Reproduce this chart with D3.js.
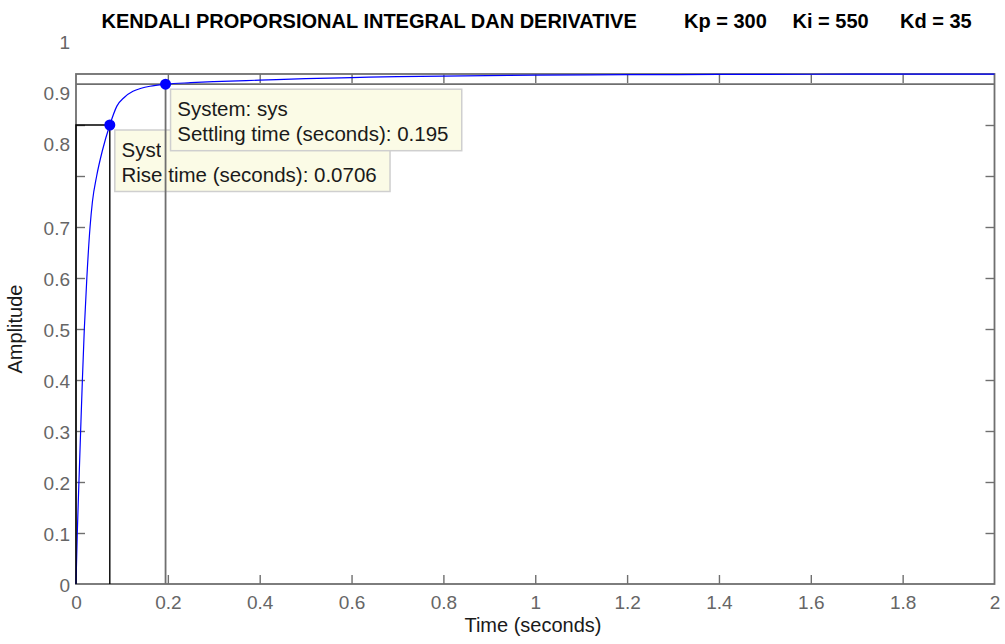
<!DOCTYPE html>
<html>
<head>
<meta charset="utf-8">
<script src="https://cdn.jsdelivr.net/npm/d3@7"></script>
<style>
  html, body { margin: 0; padding: 0; background: #fff; }
  svg { display: block; font-family: "Liberation Sans", Arial, sans-serif; }
</style>
</head>
<body>
<svg id="chart" width="1005" height="644"></svg>
<script>
// ---------- data ----------
const titleMain = "KENDALI PROPORSIONAL INTEGRAL DAN DERIVATIVE";
const titleGains = ["Kp = 300", "Ki = 550", "Kd = 35"];
const xLabel = "Time (seconds)";
const yLabel = "Amplitude";

const timeS = [0, 0.0028, 0.0064, 0.0101, 0.0139, 0.0181, 0.0236, 0.0306, 0.0358, 0.045,
  0.0575, 0.0736, 0.089, 0.105, 0.124, 0.142, 0.161, 0.195, 0.25, 0.3, 0.4, 0.5, 0.6,
  0.7, 0.8, 1.0, 1.2, 1.4, 1.6, 1.8, 2.0];
const amplitude = [0, 0.1, 0.2, 0.3, 0.4, 0.5, 0.6, 0.7, 0.75, 0.8,
  0.85, 0.9, 0.937, 0.954, 0.966, 0.972, 0.976, 0.98, 0.983, 0.985, 0.988, 0.991, 0.993,
  0.995, 0.996, 0.9976, 0.9986, 0.9992, 0.9995, 0.9997, 0.9998];

const xTicks = [0, 0.2, 0.4, 0.6, 0.8, 1, 1.2, 1.4, 1.6, 1.8, 2];
const yTicks = [0, 0.1, 0.2, 0.3, 0.4, 0.5, 0.6, 0.7, 0.8, 0.9, 1];

const riseTimeLabel = 0.0706, riseMarkT = 0.0736, riseMarkY = 0.9;
const settleTimeLabel = 0.195, settleMarkY = 0.98;
const sysName = "sys";

// ---------- layout ----------
const svg = d3.select("#chart");
const L = 76, R = 994.5, T = 74, B = 584;
const x = d3.scaleLinear().domain([0, 2]).range([L, R]);
const y = d3.scaleLinear().domain([0, 1]).range([B, T]);
const axisGray = "#6f6f6f";
const labelGray = "#666666";

// title
svg.append("text").attr("x", 101.5).attr("y", 28).attr("font-size", 20)
  .attr("font-weight", "bold").attr("fill", "#000").text(titleMain);
const gainX = [684, 792.5, 900];
titleGains.forEach((g, i) => {
  svg.append("text").attr("x", gainX[i]).attr("y", 28).attr("font-size", 20)
    .attr("font-weight", "bold").attr("fill", "#000").text(g);
});

// axes box
svg.append("rect").attr("x", L).attr("y", T).attr("width", R - L).attr("height", B - T)
  .attr("fill", "#fff").attr("stroke", axisGray).attr("stroke-width", 1.8);

function styleAxis(g) {
  g.select(".domain").remove();
  g.selectAll(".tick line").attr("stroke", axisGray).attr("stroke-width", 1.4);
  g.selectAll(".tick text").attr("fill", labelGray).attr("font-size", 19)
    .attr("font-family", "Liberation Sans, Arial, sans-serif");
}
const fmt = d => String(+d.toFixed(1));

const gx = svg.append("g").attr("transform", `translate(0,${B})`)
  .call(d3.axisBottom(x).tickValues(xTicks).tickSize(-9).tickPadding(11.5).tickFormat(fmt));
styleAxis(gx);
gx.selectAll(".tick line").filter(d => d === 0 || d === 2).remove();

const gxTop = svg.append("g").attr("transform", `translate(0,${T})`)
  .call(d3.axisTop(x).tickValues(xTicks.filter(d => d > 0 && d < 2)).tickSize(-9).tickFormat(""));
styleAxis(gxTop);

const gy = svg.append("g").attr("transform", `translate(${L},0)`)
  .call(d3.axisLeft(y).tickValues(yTicks).tickSize(-9).tickPadding(6).tickFormat(fmt));
styleAxis(gy);
gy.selectAll(".tick line").filter(d => d === 0 || d === 1).remove();
// upper labels sit higher in the reference
gy.selectAll(".tick text").attr("y", d => (d >= 0.8 ? -32 : 1));

const gyR = svg.append("g").attr("transform", `translate(${R},0)`)
  .call(d3.axisRight(y).tickValues(yTicks.filter(d => d > 0 && d < 1)).tickSize(-9).tickFormat(""));
styleAxis(gyR);

// axis labels
svg.append("text").attr("x", 533).attr("y", 632).attr("text-anchor", "middle")
  .attr("font-size", 20).attr("fill", "#1a1a1a").text(xLabel);
svg.append("text").attr("transform", `translate(21.5,${(T + B) / 2}) rotate(-90)`)
  .attr("text-anchor", "middle").attr("font-size", 20).attr("fill", "#1a1a1a").text(yLabel);

// settling horizontal bound line
svg.append("line").attr("x1", x(0)).attr("x2", x(2)).attr("y1", y(settleMarkY)).attr("y2", y(settleMarkY))
  .attr("stroke", axisGray).attr("stroke-width", 1.8);

// response curve
const pts = timeS.map((t, i) => [t, amplitude[i]]);
svg.append("path").datum(pts)
  .attr("d", d3.line().x(d => x(d[0])).y(d => y(d[1])).curve(d3.curveMonotoneX))
  .attr("fill", "none").attr("stroke", "#0000ff").attr("stroke-width", 1.2);

// rise time lines
svg.append("path")
  .attr("d", `M${x(0)},${y(0)} L${x(0)},${y(riseMarkY)} L${x(riseMarkT)},${y(riseMarkY)} L${x(riseMarkT)},${y(0)}`)
  .attr("fill", "none").attr("stroke", "#000").attr("stroke-width", 1.4);

// clip for the partially hidden first line of the rise-time tip
svg.append("defs").append("clipPath").attr("id", "riseClip")
  .append("rect").attr("x", 0).attr("y", 0).attr("width", x(settleTimeLabel) - 4.5).attr("height", 644);

// annotation helper
function annotation(px, py, lines, firstClip) {
  const g = svg.append("g");
  const bx = px + 5, by = py + 5;
  const rect = g.append("rect").attr("x", bx).attr("y", by).attr("height", 61.5)
    .attr("fill", "#fbfbe6").attr("stroke", "#cfcfcf").attr("stroke-width", 1.5);
  let maxW = 0;
  lines.forEach((s, i) => {
    const t = g.append("text").attr("x", bx + 6.7).attr("y", by + 26.5 + i * 25)
      .attr("font-size", 20.5).attr("fill", "#1a1a1a").text(s);
    if (i === 0 && firstClip) t.attr("clip-path", `url(#${firstClip})`);
    maxW = Math.max(maxW, t.node().getComputedTextLength());
  });
  rect.attr("width", maxW + 20);
  return g;
}

// rise time annotation
annotation(x(riseMarkT), y(riseMarkY),
  [`System: ${sysName}`, `Rise time (seconds): ${riseTimeLabel}`], "riseClip");

// settling vertical line (drawn over rise box)
svg.append("line").attr("x1", x(settleTimeLabel)).attr("x2", x(settleTimeLabel))
  .attr("y1", y(0)).attr("y2", y(settleMarkY))
  .attr("stroke", axisGray).attr("stroke-width", 1.8);

// settling annotation
annotation(x(settleTimeLabel), y(settleMarkY),
  [`System: ${sysName}`, `Settling time (seconds): ${settleTimeLabel}`]);

// markers
[[riseMarkT, riseMarkY], [settleTimeLabel, settleMarkY]].forEach(d => {
  svg.append("circle").attr("cx", x(d[0])).attr("cy", y(d[1])).attr("r", 5.5).attr("fill", "#0000ff");
});
</script>
</body>
</html>
